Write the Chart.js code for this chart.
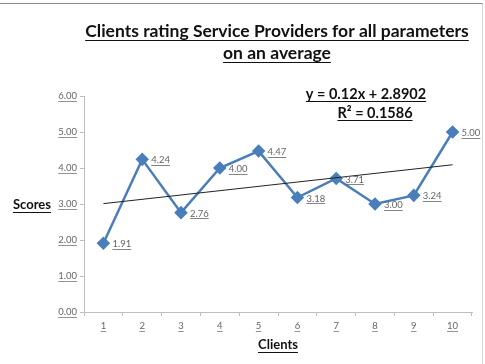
<!DOCTYPE html>
<html>
<head>
<meta charset="utf-8">
<script src="https://cdn.jsdelivr.net/npm/chart.js@4"></script>
<style>
  body { margin: 0; background: #fff; }
  #frame { position: absolute; left: -1px; top: 3px; width: 483px; height: 361px;
           border-top: 1px solid #8a8a8a; border-right: 1px solid #d6d6d6; }
  #chart { position: absolute; left: 0; top: 0; }
</style>
</head>
<body>
<div id="frame"></div>
<canvas id="chart" width="485" height="364"></canvas>
<script>
const clients = ['1', '2', '3', '4', '5', '6', '7', '8', '9', '10'];
const scores = [1.91, 4.24, 2.76, 4.00, 4.47, 3.18, 3.71, 3.00, 3.24, 5.00];
const trend = [3.01, null, null, null, null, null, null, null, null, 4.09];
const titleLines = ['Clients rating Service Providers for all parameters', 'on an average'];
const equation = ['y = 0.12x + 2.8902', 'R\u00b2 = 0.1586'];

const FONT = 'Lato, "Open Sans", sans-serif';

function underlined(ctx, text, x, y, align, font, color, lw){
    ctx.save();
    ctx.font = font;
    ctx.fillStyle = color;
    ctx.strokeStyle = color;
    ctx.textAlign = align;
    ctx.textBaseline = 'middle';
    ctx.fillText(text, x, y);
    let w = ctx.measureText(text).width;
    let x0 = align === 'center' ? x - w/2 : (align === 'right' ? x - w : x);
    let size = parseFloat(font.match(/(\d+(\.\d+)?)px/)[1]);
    let uy = Math.round(y + size*0.5) + 0.5;
    ctx.lineWidth = lw;
    ctx.beginPath();
    ctx.moveTo(x0, uy);
    ctx.lineTo(x0 + w, uy);
    ctx.stroke();
    ctx.restore();
}

const textPlugin = {
    id: 'texts',
    afterDraw(chart){
        const ctx = chart.ctx;
        const xs = chart.scales.x, ys = chart.scales.y;
        // title
        underlined(ctx, titleLines[0], 277, 31, 'center', 'bold 17.5px ' + FONT, '#111', 1);
        underlined(ctx, titleLines[1], 277, 53, 'center', 'bold 17.5px ' + FONT, '#111', 1);
        // equation
        underlined(ctx, equation[0], 366, 94, 'center', 'bold 14.5px ' + FONT, '#111', 1);
        underlined(ctx, equation[1], 375, 113, 'center', 'bold 14.5px ' + FONT, '#111', 1);
        // axis titles
        underlined(ctx, 'Scores', 32, 205, 'center', 'bold 13px ' + FONT, '#111', 1);
        underlined(ctx, 'Clients', 278, 345, 'center', 'bold 13px ' + FONT, '#111', 1);
        // underline tick labels
        ctx.save();
        ctx.font = '9.5px ' + FONT;
        ctx.strokeStyle = '#777';
        ctx.lineWidth = 0.8;
        ys.ticks.forEach((t) => {
            let lbl = t.value.toFixed(2);
            let w = ctx.measureText(lbl).width;
            let py = Math.round(ys.getPixelForValue(t.value) + 5) + 0.5;
            ctx.beginPath(); ctx.moveTo(77 - w, py); ctx.lineTo(77, py); ctx.stroke();
        });
        clients.forEach((c, i) => {
            let w = ctx.measureText(c).width;
            let px = xs.getPixelForValue(i);
            ctx.beginPath(); ctx.moveTo(px - w/2, 331.5); ctx.lineTo(px + w/2, 331.5); ctx.stroke();
        });
        ctx.restore();
        // data labels
        const meta = chart.getDatasetMeta(0);
        meta.data.forEach((pt, i) => {
            underlined(ctx, scores[i].toFixed(2), pt.x + 9, pt.y + 1, 'left', '9.5px ' + FONT, '#666', 0.8);
        });
    }
};

new Chart(document.getElementById('chart'), {
    type: 'line',
    data: {
        labels: clients,
        datasets: [
            {
                label: 'Scores',
                data: scores,
                borderColor: '#4a7ebb',
                backgroundColor: '#4a7ebb',
                borderWidth: 2.5,
                pointStyle: 'rectRot',
                pointRadius: 5,
                pointHoverRadius: 5,
                tension: 0,
                fill: false,
                order: 2
            },
            {
                label: 'Trend',
                data: trend,
                borderColor: '#222',
                borderWidth: 1,
                pointRadius: 0,
                spanGaps: true,
                tension: 0,
                fill: false,
                order: 1
            }
        ]
    },
    options: {
        responsive: false,
        maintainAspectRatio: false,
        animation: false,
        events: [],
        layout: { padding: { left: 0, right: 13, top: 96, bottom: 0 } },
        plugins: {
            legend: { display: false },
            title: { display: false },
            tooltip: { enabled: false }
        },
        scales: {
            x: {
                offset: true,
                grid: { offset: true, drawOnChartArea: false, tickLength: 4, color: '#bdbdbd' },
                border: { color: '#bdbdbd' },
                ticks: { color: '#666', font: { family: FONT, size: 9.5 }, padding: 4, maxRotation: 0 },
                afterFit(scale){ scale.height = 52; }
            },
            y: {
                min: 0,
                max: 6,
                grid: { drawOnChartArea: false, tickLength: 4, color: '#bdbdbd' },
                border: { color: '#bdbdbd' },
                ticks: {
                    stepSize: 1,
                    color: '#666',
                    font: { family: FONT, size: 9.5 },
                    padding: 3,
                    callback: v => v.toFixed(2)
                },
                afterFit(scale){ scale.width = 84; }
            }
        }
    },
    plugins: [textPlugin]
});
</script>
</body>
</html>
